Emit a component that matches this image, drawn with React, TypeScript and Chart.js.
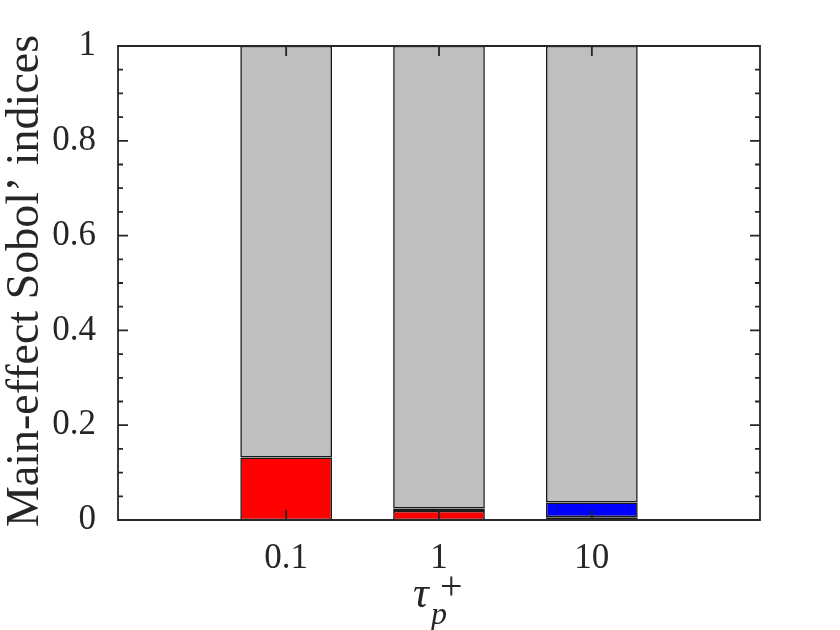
import React, { useEffect, useRef } from 'react';
import { Chart, registerables } from 'chart.js';

Chart.register(...registerables);

// Data
const categories = ['0.1', '1', '10'];
const firstIndex = [0.132, 0.019, 0.002]; // red
const secondIndex = [0, 0.005, 0.004]; // thin dark segment
const thirdIndex = [0, 0, 0.031]; // blue
const remainder = [0.868, 0.976, 0.963]; // gray
const yTicks = [0, 0.2, 0.4, 0.6, 0.8, 1];
const yMinorStep = 0.05;

const xPos = categories.map((c) => Math.log10(Number(c)));

const TEXT = '#262626';
const FONT = '"Liberation Serif", "Times New Roman", serif';

function series(vals: number[]) {
  return vals.map((v, i) => ({ x: xPos[i], y: v }));
}

const framePlugin = {
  id: 'matlabFrame',
  afterDatasetsDraw(chart: any) {
    const { ctx, chartArea } = chart;
    const { left, right, top, bottom } = chartArea;
    const ys = chart.scales.y;
    const xs = chart.scales.x;
    ctx.save();
    ctx.strokeStyle = TEXT;
    ctx.lineWidth = 1.8;
    ctx.beginPath();
    ctx.rect(left, top, right - left, bottom - top);
    ctx.stroke();
    ctx.beginPath();
    const n = Math.round(1 / yMinorStep);
    for (let k = 0; k <= n; k++) {
      const v = k * yMinorStep;
      const isMajor = yTicks.some((t) => Math.abs(t - v) < 1e-9);
      const len = isMajor ? 10 : 5;
      const py = ys.getPixelForValue(v);
      ctx.moveTo(left, py);
      ctx.lineTo(left + len, py);
      ctx.moveTo(right, py);
      ctx.lineTo(right - len, py);
    }
    xPos.forEach((v) => {
      const px = xs.getPixelForValue(v);
      ctx.moveTo(px, bottom);
      ctx.lineTo(px, bottom - 10);
      ctx.moveTo(px, top);
      ctx.lineTo(px, top + 10);
    });
    ctx.stroke();
    ctx.restore();
  },
  afterDraw(chart: any) {
    const { ctx, chartArea } = chart;
    ctx.save();
    ctx.fillStyle = TEXT;
    ctx.save();
    ctx.translate(38, (chartArea.top + chartArea.bottom) / 2 - 2);
    ctx.rotate(-Math.PI / 2);
    ctx.font = `46px ${FONT}`;
    ctx.textAlign = 'center';
    ctx.textBaseline = 'alphabetic';
    ctx.fillText('Main-effect Sobol’ indices', 0, 0);
    ctx.restore();
    ctx.textAlign = 'left';
    ctx.textBaseline = 'alphabetic';
    ctx.font = `italic 44px ${FONT}`;
    ctx.fillText('τ', 413, 607);
    ctx.font = `italic 32px ${FONT}`;
    ctx.fillText('p', 431, 624);
    ctx.font = `40px ${FONT}`;
    ctx.fillText('+', 440, 599);
    ctx.restore();
  },
};

export default function App() {
  const ref = useRef<HTMLCanvasElement>(null);
  useEffect(() => {
    if (!ref.current) return;
    const common = {
      borderColor: '#1a1a1a',
      borderWidth: 1.6,
      borderSkipped: false,
      barPercentage: 0.6,
      categoryPercentage: 1,
    };
    const chart = new Chart(ref.current, {
      type: 'bar',
      data: {
        datasets: [
          { ...common, label: 'S1', data: series(firstIndex), backgroundColor: '#ff0000' },
          { ...common, label: 'S2', data: series(secondIndex), backgroundColor: '#202020' },
          { ...common, label: 'S3', data: series(thirdIndex), backgroundColor: '#0000ff' },
          { ...common, label: 'rest', data: series(remainder), backgroundColor: '#bfbfbf' },
        ] as any,
      },
      plugins: [framePlugin],
      options: {
        responsive: false,
        animation: false,
        layout: { padding: { left: 0, top: 46, right: 80, bottom: 0 } },
        plugins: { legend: { display: false }, tooltip: { enabled: false }, title: { display: false } },
        scales: {
          x: {
            type: 'linear',
            min: -2.1,
            max: 2.1,
            offset: false,
            stacked: true,
            grid: { display: false, offset: false },
            border: { display: false },
            afterBuildTicks: (s: any) => {
              s.ticks = xPos.map((v) => ({ value: v }));
            },
            afterFit: (s: any) => {
              s.height = 110;
            },
            ticks: {
              autoSkip: false,
              maxRotation: 0,
              padding: 10,
              color: TEXT,
              font: { family: FONT, size: 35 },
              callback: (v: any) => {
                const i = xPos.findIndex((p) => Math.abs(p - Number(v)) < 1e-9);
                return i >= 0 ? categories[i] : '';
              },
            },
          },
          y: {
            min: 0,
            max: 1,
            stacked: true,
            grid: { display: false },
            border: { display: false },
            afterBuildTicks: (s: any) => {
              s.ticks = yTicks.map((v) => ({ value: v }));
            },
            afterFit: (s: any) => {
              s.width = 118;
            },
            ticks: {
              padding: 14,
              color: TEXT,
              font: { family: FONT, size: 35 },
              callback: (v: any) => String(Number(v)),
            },
          },
        },
      } as any,
    });
    return () => chart.destroy();
  }, []);
  return (
    <div style={{ position: 'fixed', left: 0, top: 0, width: 840, height: 630, background: '#fff' }}>
      <canvas ref={ref} width={840} height={630} />
    </div>
  );
}
